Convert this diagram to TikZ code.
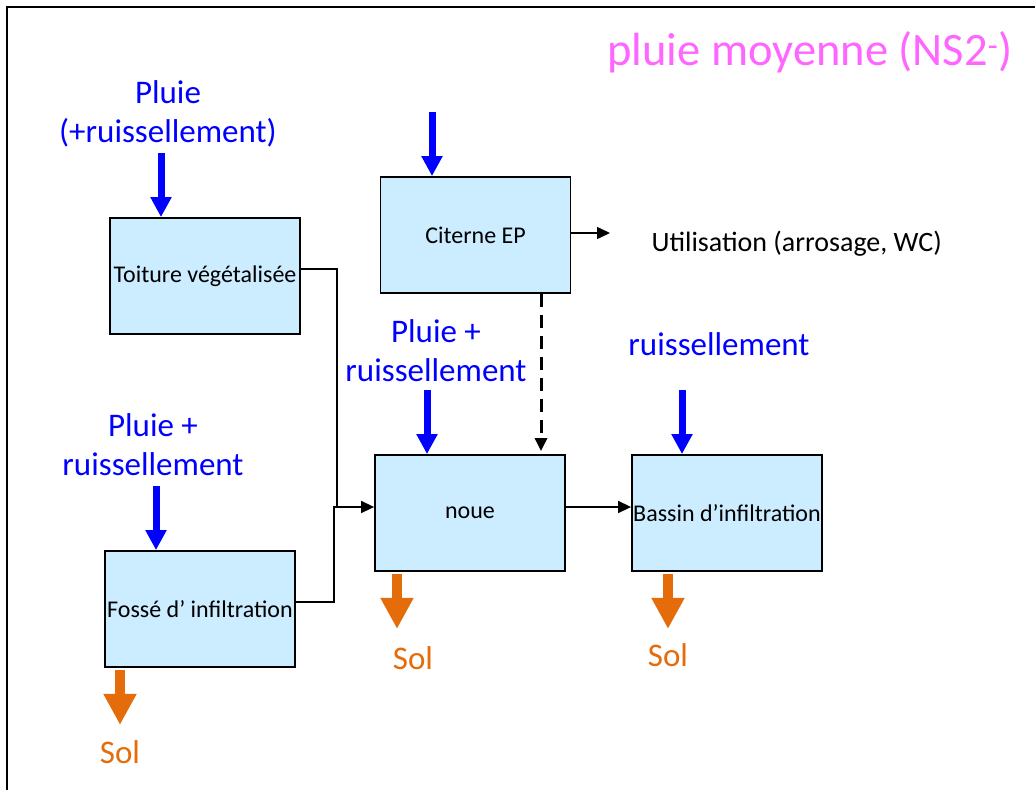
\documentclass[tikz,border=0pt]{standalone}
\usepackage{fontspec}
\setmainfont{Carlito}
\usetikzlibrary{arrows.meta}
\definecolor{boxblue}{RGB}{204,236,255}
\definecolor{solorange}{RGB}{228,108,10}
\definecolor{titlepink}{RGB}{255,102,255}
\tikzset{
  ouvrage/.style={draw=black, line width=1.8pt, fill=boxblue, minimum width=190pt, minimum height=116pt, inner sep=1pt, font=\fontsize{24}{29}\selectfont},
  flux/.style={line width=1.5pt, -{Triangle[length=13pt,width=12pt]}},
  apport/.style={blue, line width=7pt, -{Triangle[length=20pt,width=20pt]}},
  infiltre/.style={solorange, line width=10pt, -{Triangle[length=31pt,width=31pt]}},
  pluielbl/.style={blue, align=center, font=\fontsize{33}{39}\selectfont},
  sollbl/.style={solorange, font=\fontsize{33}{39}\selectfont}
}

\begin{document}
\begin{tikzpicture}[x=1pt,y=-1pt]
                \useasboundingbox (0,0) rectangle (1035,790);
                \draw[line width=2pt] (7,790) -- (7,7) -- (1035,7);
                \node[titlepink, font=\fontsize{46.5}{52}\selectfont] (titre) at (810,52) {pluie moyenne (NS2\textsuperscript{-})};
                % ouvrages
                \node[ouvrage] (toit) at (205,276) {Toiture végétalisée};
                \node[ouvrage] (citerne) at (475.5,235) {Citerne EP};
                \node[ouvrage] (noue) at (470,513) {noue};
                \node[ouvrage] (bassin) at (727,513) {Bassin d’infiltration};
                \node[ouvrage] (fosse) at (200,609) {Fossé d’ infiltration};
                \node[anchor=west, font=\fontsize{28}{33}\selectfont] (usage) at (648,244) {Utilisation (arrosage, WC)};
                \coordinate (versusage) at (610,233);
                % apports
                \node[pluielbl] (lbltoit) at (168,113.5) {Pluie\\(+ruissellement)};
                \node[pluielbl] (lblnoue) at (436,350.5) {Pluie +\\ruissellement};
                \node[pluielbl] (lblfosse) at (153,444.5) {Pluie +\\ruissellement};
                \node[pluielbl] (lblbassin) at (719,344) {ruissellement};
                \foreach \b/\dx in {toit/-44, citerne/-43.5, noue/-43, fosse/-44, bassin/-45}
                    \draw[apport] ([xshift=\dx pt,yshift=64pt]\b.north) -- ([xshift=\dx pt]\b.north);
                % liaisons
                \draw[flux] ([yshift=7pt]toit.east) -| ([xshift=-37pt,yshift=6pt]noue.west) -- ([yshift=6pt]noue.west);
                \draw[line width=1.5pt] ([yshift=7pt]fosse.east) -| ([xshift=-40pt,yshift=6pt]noue.west) -- ([xshift=-37pt,yshift=6pt]noue.west);
                \draw[flux] ([yshift=2pt]citerne.east) -- (versusage);
                \draw[flux, line width=3pt, dash pattern=on 13pt off 8pt] ([xshift=65.5pt]citerne.south) -- ([xshift=71pt,yshift=3pt]noue.north);
                \draw[flux] ([yshift=6pt]noue.east) -- ([yshift=6pt]bassin.west);
                % infiltration
                \foreach \b/\dx in {fosse/-80, noue/-73, bassin/-59}
                    \draw[infiltre] ([xshift=\dx pt,yshift=-2pt]\b.south) -- ([xshift=\dx pt,yshift=-57pt]\b.south);
                \node[sollbl] (solfosse) at (120,752) {Sol};
                \node[sollbl] (solnoue) at (413,658) {Sol};
                \node[sollbl] (solbassin) at (668,655) {Sol};
            \end{tikzpicture}
\end{document}
